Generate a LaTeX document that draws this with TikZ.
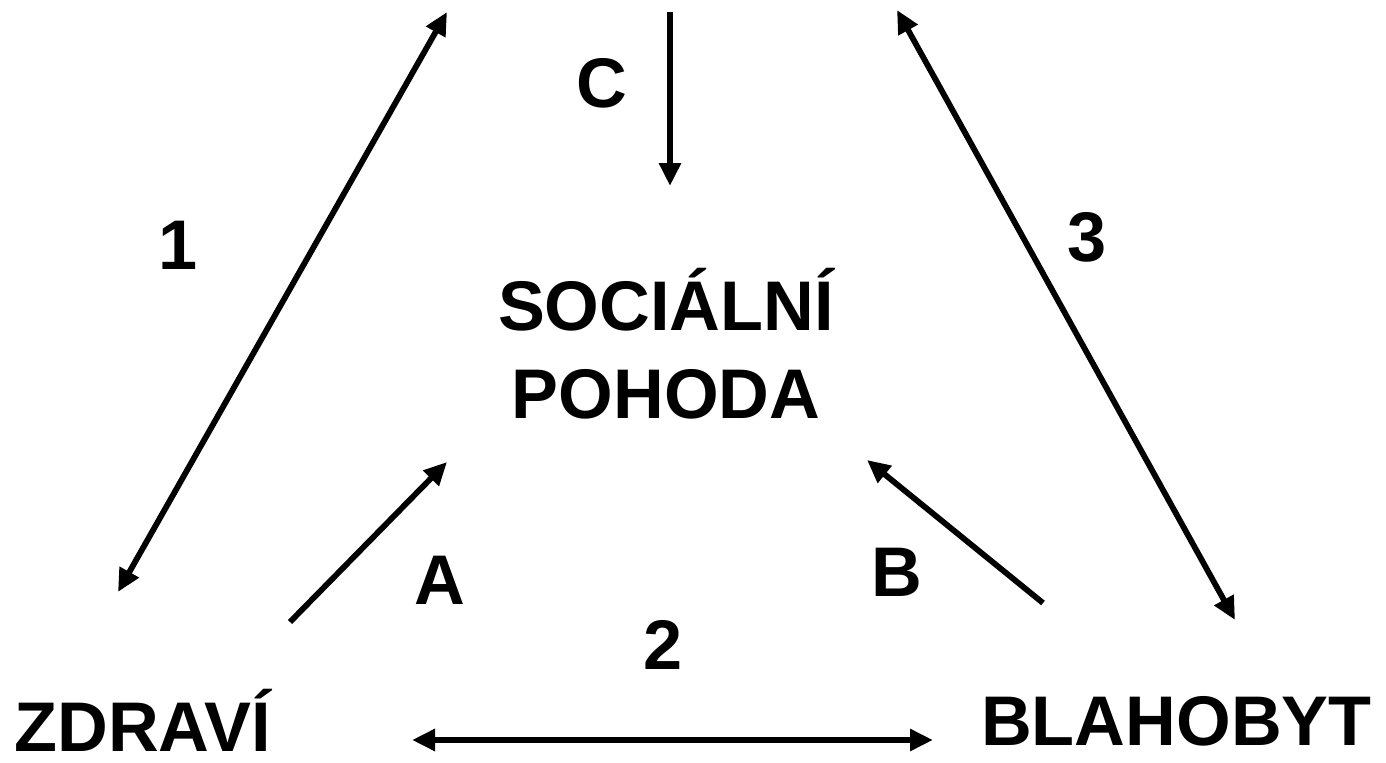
\documentclass[tikz,border=0pt]{standalone}
\usepackage{fontspec}
\setmainfont{Liberation Sans}
\usetikzlibrary{positioning,arrows.meta}
\tikzset{
  lbl/.style={font=\fontsize{40}{46}\selectfont\bfseries, inner sep=0pt},
  link/.style={line width=3.3pt, -{Triangle[length=0.46cm,width=0.42cm]}},
  dlink/.style={line width=3.3pt, {Triangle[length=0.46cm,width=0.42cm]}-{Triangle[length=0.46cm,width=0.42cm]}}
}

\begin{document}
\begin{tikzpicture}[x=0.02cm, y=-0.02cm]
    \useasboundingbox (0,0) rectangle (1386,763);
    % the three fields
    \node[lbl, anchor=base west] (zdravi) at (14,751) {ZDRAVÍ};
    \node[lbl, anchor=base east] (blaho) at (1372,745) {BLAHOBYT};
    \node[lbl, align=center] (soc) at (666,344) {SOCIÁLNÍ\\[4pt]POHODA};
    % labels on the links
    \node[lbl] (n1) at (178,245) {1};
    \node[lbl] (n2) at (663,645) {2};
    \node[lbl] (n3) at (1087,237) {3};
    \node[lbl] (la) at (440,580) {A};
    \node[lbl] (lb) at (897,572) {B};
    \node[lbl] (lc) at (602,83) {C};
    % ends of the links
    \coordinate (p1a) at (118,592);
    \coordinate (p1b) at (447,12);
    \coordinate (pca) at (670,12);
    \coordinate (pcb) at (670,186);
    \coordinate (p3a) at (897,10);
    \coordinate (p3b) at (1235,620);
    \coordinate (paa) at (290,622);
    \coordinate (pab) at (447,462);
    \coordinate (pba) at (1043,603);
    \coordinate (pbb) at (867,460);
    \coordinate (p2a) at (412,740);
    \coordinate (p2b) at (933,740);
    \draw[dlink] (p1a) -- (p1b);
    \draw[link] (pca) -- (pcb);
    \draw[dlink] (p3a) -- (p3b);
    \draw[link] (paa) -- (pab);
    \draw[link] (pba) -- (pbb);
    \draw[dlink] (p2a) -- (p2b);
\end{tikzpicture}
\end{document}
